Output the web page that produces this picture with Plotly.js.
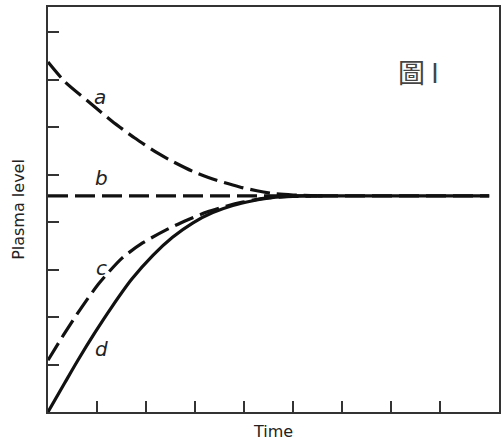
<!DOCTYPE html>
<html>
<head>
<meta charset="utf-8">
<script src="https://cdn.plot.ly/plotly-3.0.1.min.js"></script>
<style>html,body{margin:0;padding:0;background:#fff;}#chart{width:504px;height:442px;}</style>
</head>
<body>
<div id="chart"></div>
<script>
// Curve a: starts high, decays to steady state
const aX = [0, 0.34, 0.81, 1.30, 1.77, 2.24, 2.48, 2.95, 3.44, 3.91, 4.26, 4.6, 5.0, 5.5];
const aY = [7.37, 6.96, 6.55, 6.13, 5.77, 5.45, 5.31, 5.07, 4.88, 4.74, 4.66, 4.60, 4.57, 4.55];
// Curve b: constant at steady state
const bX = [0, 9.0];
const bY = [4.55, 4.55];
// Curve c: starts low, rises to steady state
const cX = [0, 0.34, 0.69, 1.05, 1.51, 1.93, 2.42, 2.83, 3.24, 3.65, 3.97, 4.4, 5.0, 5.6];
const cY = [1.09, 1.66, 2.21, 2.72, 3.24, 3.56, 3.84, 4.04, 4.21, 4.34, 4.42, 4.50, 4.54, 4.55];
// Curve d: starts at zero, rises to steady state (solid)
const dX = [0, 0.34, 0.61, 0.95, 1.30, 1.71, 2.14, 2.54, 2.95, 3.36, 3.77, 4.18, 4.52, 5.2, 6.0, 9.0];
const dY = [0, 0.61, 1.09, 1.66, 2.21, 2.80, 3.30, 3.68, 3.98, 4.20, 4.35, 4.45, 4.51, 4.55, 4.55, 4.55];

const curveLabels = ['a', 'b', 'c', 'd'];
const labelX = [1.06, 1.1, 1.1, 1.1];
const labelY = [6.63, 4.93, 3.03, 1.33];
const xTicks = [1, 2, 3, 4, 5, 6, 7, 8];
const yTicks = [1, 2, 3, 4, 5, 6, 7, 8];
const figLabel = '圖 I';

const dashStyle = '20px,7px';
const ink = '#111';

const traces = [
  {x: aX, y: aY, mode: 'lines', line: {color: ink, width: 3.2, dash: dashStyle, shape: 'spline', smoothing: 0.7}},
  {x: bX, y: bY, mode: 'lines', line: {color: ink, width: 3.2, dash: dashStyle}},
  {x: cX, y: cY, mode: 'lines', line: {color: ink, width: 3.2, dash: dashStyle, shape: 'spline', smoothing: 0.7}},
  {x: dX, y: dY, mode: 'lines', line: {color: ink, width: 3.2, shape: 'spline', smoothing: 0.7}}
];

const annotations = curveLabels.map((t, i) => ({
  x: labelX[i], y: labelY[i], xref: 'x', yref: 'y', text: t, showarrow: false,
  font: {family: 'DejaVu Sans', size: 20, color: '#222', style: 'italic'},
  xanchor: 'center', yanchor: 'middle'
}));
annotations.push({
  x: 7.56, y: 7.18, xref: 'x', yref: 'y', text: figLabel, showarrow: false,
  font: {family: 'Noto Sans CJK TC', size: 27, color: '#444'},
  xanchor: 'center', yanchor: 'middle'
});

const layout = {
  width: 504, height: 442,
  margin: {l: 48, r: 5, t: 7, b: 30},
  paper_bgcolor: '#fff', plot_bgcolor: '#fff',
  showlegend: false,
  xaxis: {
    range: [0, 9.2], showgrid: false, zeroline: false,
    showline: true, linecolor: '#333', linewidth: 2, mirror: true,
    tickmode: 'array', tickvals: xTicks, showticklabels: false,
    ticks: 'inside', ticklen: 11, tickwidth: 2, tickcolor: '#333',
    title: {text: 'Time', font: {family: 'DejaVu Sans', size: 16, color: '#222'}, standoff: 13}
  },
  yaxis: {
    range: [0, 8.53], showgrid: false, zeroline: false,
    showline: true, linecolor: '#333', linewidth: 2, mirror: true,
    tickmode: 'array', tickvals: yTicks, showticklabels: false,
    ticks: 'inside', ticklen: 11, tickwidth: 2, tickcolor: '#333',
    title: {text: 'Plasma level', font: {family: 'DejaVu Sans', size: 16, color: '#222'}, standoff: 17}
  },
  annotations: annotations
};

Plotly.newPlot('chart', traces, layout, {displayModeBar: false, staticPlot: true});
</script>
</body>
</html>
